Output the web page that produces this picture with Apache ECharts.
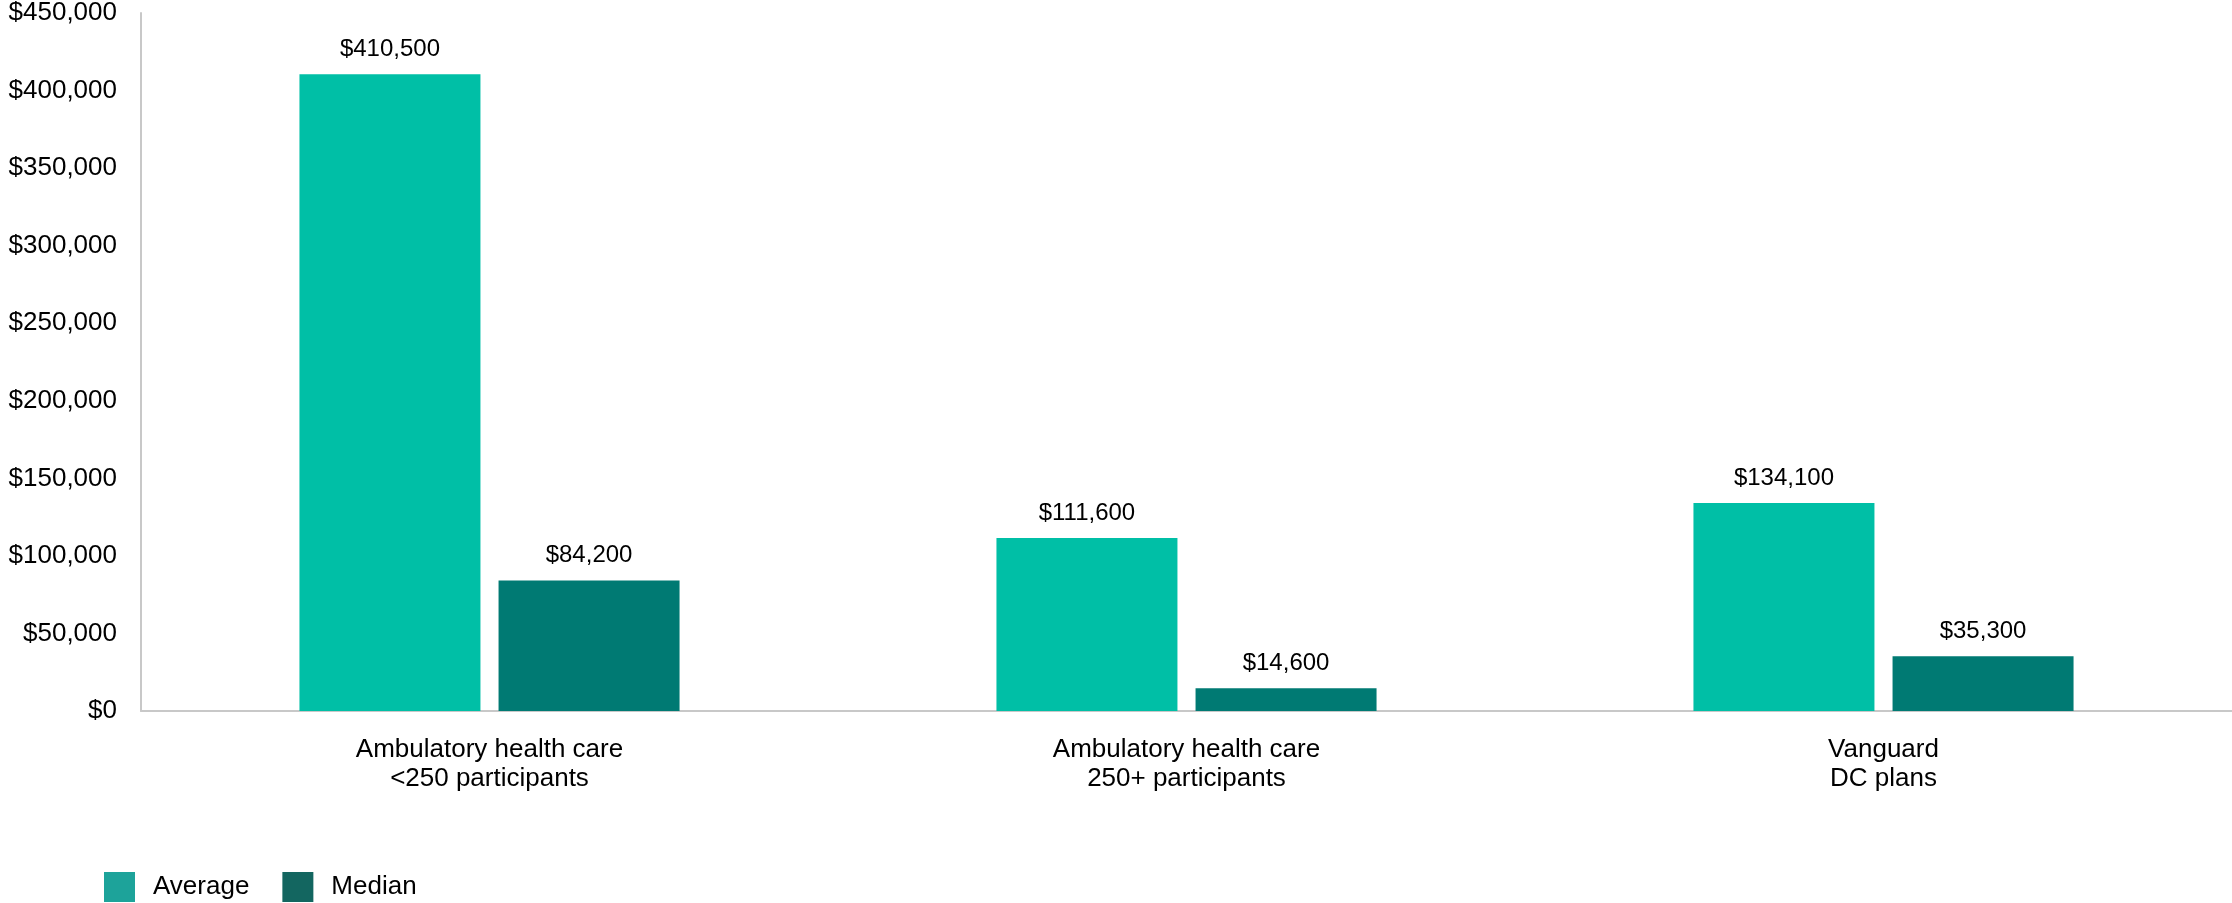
<!DOCTYPE html>
<html>
<head>
<meta charset="utf-8">
<script src="https://cdn.jsdelivr.net/npm/echarts@6/dist/echarts.min.js"></script>
<style>
html, body { margin: 0; padding: 0; background: #fff; }
#chart { width: 2232px; height: 903px; }
</style>
</head>
<body>
<div id="chart"></div>
<script>
// data
var categories = ['Ambulatory health care\n<250 participants', 'Ambulatory health care\n250+ participants', 'Vanguard\nDC plans'];
var averageValues = [410500, 111600, 134100];
var medianValues = [84200, 14600, 35300];
var yTicks = [0, 50000, 100000, 150000, 200000, 250000, 300000, 350000, 400000, 450000];

var font = '"Liberation Sans", Arial, sans-serif';

function money(v) {
    return '$' + Number(v).toLocaleString('en-US');
}

var chart = echarts.init(document.getElementById('chart'));
var option = {
    animation: false,
    textStyle: { fontFamily: font },
    grid: {
        left: 141,
        right: 0,
        top: 13,
        bottom: 192,
        containLabel: false
    },
    legend: {
        left: 104,
        top: 872,
        padding: 0,
        itemWidth: 31,
        itemHeight: 30,
        itemGap: 33,
        icon: 'rect',
        textStyle: {
            fontFamily: font,
            fontSize: 26,
            color: '#000',
            padding: [0, 0, 0, 13]
        },
        data: [
            { name: 'Average', itemStyle: { color: '#1DA39A' } },
            { name: 'Median', itemStyle: { color: '#136660' } }
        ]
    },
    xAxis: {
        type: 'category',
        data: categories,
        axisLine: { show: true, lineStyle: { color: '#c8c8c8', width: 2 } },
        axisTick: { show: false },
        axisLabel: {
            interval: 0,
            margin: 24,
            lineHeight: 29,
            fontSize: 26,
            color: '#000',
            fontFamily: font
        }
    },
    yAxis: {
        type: 'value',
        min: yTicks[0],
        max: yTicks[yTicks.length - 1],
        interval: 50000,
        axisLine: { show: true, lineStyle: { color: '#c8c8c8', width: 2 } },
        axisTick: { show: false },
        splitLine: { show: false },
        axisLabel: {
            margin: 24,
            fontSize: 26,
            color: '#000',
            fontFamily: font,
            formatter: function (v) { return money(v); }
        }
    },
    series: [
        {
            name: 'Average',
            type: 'bar',
            barWidth: 181,
            barGap: '10%',
            itemStyle: { color: '#00BFA6' },
            label: {
                show: true,
                position: 'top',
                distance: 13,
                fontSize: 24,
                color: '#000',
                fontFamily: font,
                formatter: function (p) { return money(p.value); }
            },
            data: averageValues
        },
        {
            name: 'Median',
            type: 'bar',
            barWidth: 181,
            barGap: '10%',
            itemStyle: { color: '#007A73' },
            label: {
                show: true,
                position: 'top',
                distance: 13,
                fontSize: 24,
                color: '#000',
                fontFamily: font,
                formatter: function (p) { return money(p.value); }
            },
            data: medianValues
        }
    ]
};
chart.setOption(option);
</script>
</body>
</html>
